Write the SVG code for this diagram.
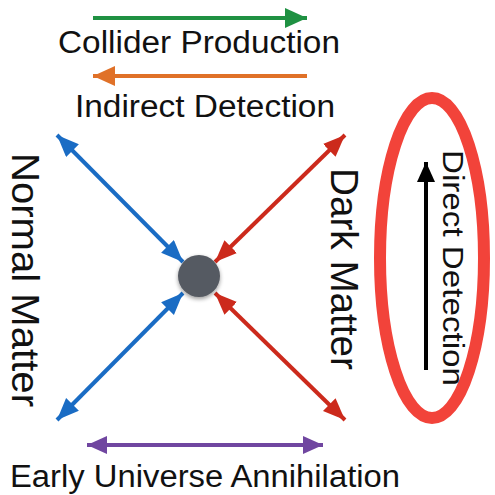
<svg xmlns="http://www.w3.org/2000/svg" width="495" height="495" viewBox="0 0 495 495">
<style>
text{font-family:"Liberation Sans",Arial,sans-serif;fill:#111}
.lbl{font-size:31px}
.side{font-size:38px}
.ln{stroke-width:4;fill:none}
</style>
<defs>
<marker id="hg" markerUnits="userSpaceOnUse" markerWidth="24" markerHeight="22" refX="22" refY="10" orient="auto-start-reverse"><path d="M0,0 L22,10 L0,20 Z" fill="#1f9142"/></marker>
<marker id="ho" markerUnits="userSpaceOnUse" markerWidth="24" markerHeight="22" refX="22" refY="10" orient="auto-start-reverse"><path d="M0,0 L22,10 L0,20 Z" fill="#e07128"/></marker>
<marker id="hb" markerUnits="userSpaceOnUse" markerWidth="24" markerHeight="20" refX="22" refY="9" orient="auto-start-reverse"><path d="M0,0 L22,9 L0,18 Z" fill="#1a6cc4"/></marker>
<marker id="hr" markerUnits="userSpaceOnUse" markerWidth="24" markerHeight="20" refX="22" refY="9" orient="auto-start-reverse"><path d="M0,0 L22,9 L0,18 Z" fill="#cc2a1c"/></marker>
<marker id="hp" markerUnits="userSpaceOnUse" markerWidth="22" markerHeight="20" refX="20" refY="9" orient="auto-start-reverse"><path d="M0,0 L20,9 L0,18 Z" fill="#7046a0"/></marker>
<marker id="hk" markerUnits="userSpaceOnUse" markerWidth="22" markerHeight="20" refX="20" refY="9" orient="auto-start-reverse"><path d="M0,0 L20,9 L0,18 Z" fill="#000"/></marker>
<filter id="sh" x="-50%" y="-50%" width="200%" height="200%"><feGaussianBlur in="SourceAlpha" stdDeviation="2"/><feOffset dx="0" dy="2"/><feComponentTransfer><feFuncA type="linear" slope="0.4"/></feComponentTransfer><feMerge><feMergeNode/><feMergeNode in="SourceGraphic"/></feMerge></filter>
</defs>
<g id="connectors">
<line class="ln" x1="93" y1="18" x2="307" y2="18" stroke="#1f9142" marker-end="url(#hg)"/>
<line class="ln" x1="307" y1="76" x2="93" y2="76" stroke="#e07128" marker-end="url(#ho)"/>
<line class="ln" x1="57" y1="135" x2="183" y2="262" stroke="#1a6cc4" marker-start="url(#hb)" marker-end="url(#hb)"/>
<line class="ln" x1="57" y1="420" x2="183" y2="293" stroke="#1a6cc4" marker-start="url(#hb)" marker-end="url(#hb)"/>
<line class="ln" x1="345" y1="135" x2="215" y2="262" stroke="#cc2a1c" marker-start="url(#hr)" marker-end="url(#hr)"/>
<line class="ln" x1="345" y1="420" x2="215" y2="293" stroke="#cc2a1c" marker-start="url(#hr)" marker-end="url(#hr)"/>
<line class="ln" x1="87" y1="445" x2="323" y2="445" stroke="#7046a0" marker-start="url(#hp)" marker-end="url(#hp)"/>
<line class="ln" x1="426" y1="370" x2="426" y2="162" stroke="#000" marker-end="url(#hk)"/>
</g>
<g id="vertex"><circle cx="199" cy="276" r="21" fill="#555a62" filter="url(#sh)"/></g>
<g id="collider"><text class="lbl" x="58" y="53" textLength="282" lengthAdjust="spacingAndGlyphs">Collider Production</text></g>
<g id="indirect"><text class="lbl" x="75" y="117" textLength="260" lengthAdjust="spacingAndGlyphs">Indirect Detection</text></g>
<g id="normal"><text class="side" transform="translate(12,153) rotate(90)" textLength="254" lengthAdjust="spacingAndGlyphs">Normal Matter</text></g>
<g id="dark"><text class="side" transform="translate(331,168) rotate(90)" textLength="202" lengthAdjust="spacingAndGlyphs">Dark Matter</text></g>
<g id="direct">
<ellipse cx="432" cy="258" rx="52" ry="160" fill="none" stroke="#f2433a" stroke-width="12"/>
<text transform="translate(443,150) rotate(90)" style="font-size:30px" textLength="236" lengthAdjust="spacingAndGlyphs">Direct Detection</text>
</g>
<g id="early"><text class="lbl" x="10" y="487" textLength="390" lengthAdjust="spacingAndGlyphs">Early Universe Annihilation</text></g>
</svg>
